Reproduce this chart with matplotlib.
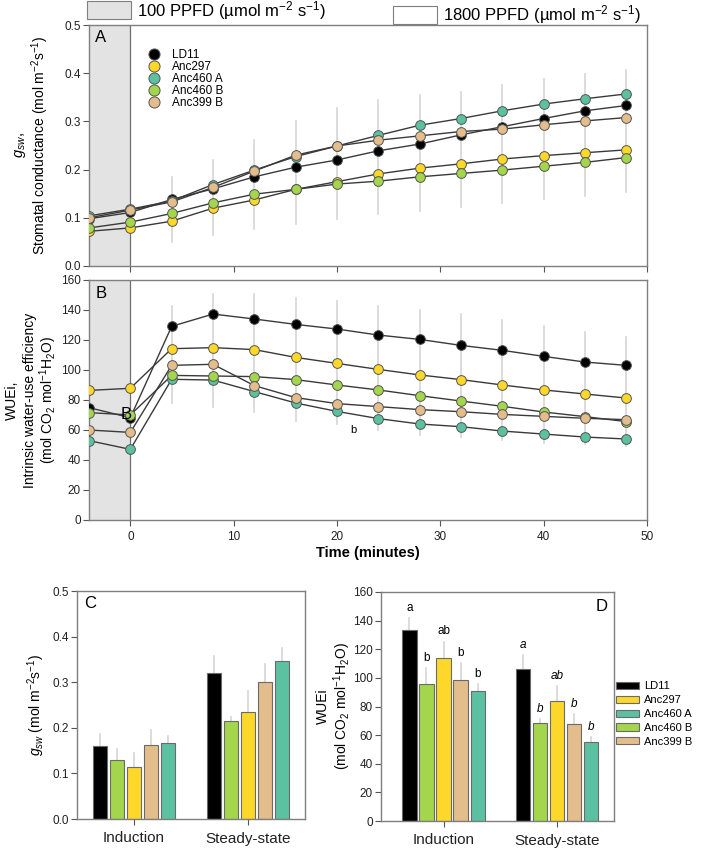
import numpy as np
import matplotlib
matplotlib.use('Agg')
from matplotlib import pyplot as plt
from matplotlib.lines import Line2D
from matplotlib.patches import Rectangle, Patch

plt.rcParams['font.family'] = ['Liberation Sans', 'DejaVu Sans']
plt.rcParams['mathtext.fontset'] = 'custom'
plt.rcParams['mathtext.rm'] = 'Liberation Sans'
plt.rcParams['mathtext.it'] = 'Liberation Sans:italic'
plt.rcParams['mathtext.bf'] = 'Liberation Sans:bold'

# ---- data ----
genotypes = ['LD11', 'Anc297', 'Anc460 A', 'Anc460 B', 'Anc399 B']
colors = {'LD11': '#000000', 'Anc297': '#fdd82a', 'Anc460 A': '#5cc1a0',
          'Anc460 B': '#a3d64c', 'Anc399 B': '#e3bd8c'}

time = [-4, 0, 4, 8, 12, 16, 20, 24, 28, 32, 36, 40, 44, 48]

gsw = {
    'LD11':     [0.098, 0.111, 0.138, 0.160, 0.185, 0.205, 0.220, 0.239, 0.253, 0.272, 0.289, 0.306, 0.322, 0.333],
    'Anc297':   [0.072, 0.079, 0.093, 0.120, 0.137, 0.159, 0.175, 0.191, 0.203, 0.212, 0.222, 0.229, 0.235, 0.241],
    'Anc460 A': [0.104, 0.118, 0.135, 0.169, 0.199, 0.227, 0.249, 0.271, 0.292, 0.306, 0.322, 0.336, 0.347, 0.357],
    'Anc460 B': [0.079, 0.091, 0.109, 0.131, 0.149, 0.159, 0.170, 0.176, 0.185, 0.192, 0.199, 0.207, 0.215, 0.225],
    'Anc399 B': [0.100, 0.116, 0.133, 0.163, 0.197, 0.230, 0.249, 0.261, 0.270, 0.279, 0.284, 0.293, 0.301, 0.308],
}
gsw_err_hi = [None, None, 0.185, 0.220, 0.261, 0.301, 0.327, 0.344, 0.355, 0.362, 0.376, 0.387, 0.398, 0.407]
gsw_err_lo = [None, None, 0.050, 0.064, 0.076, 0.088, 0.097, 0.108, 0.115, 0.123, 0.131, 0.138, 0.146, 0.154]

wue = {
    'LD11':     [74.9, 68.2, 129.1, 137.3, 134.0, 130.4, 127.3, 123.3, 120.4, 116.4, 113.1, 109.1, 105.3, 103.1],
    'Anc297':   [86.4, 87.8, 114.2, 114.9, 113.6, 108.4, 104.4, 100.4, 96.7, 93.6, 90.0, 86.7, 84.0, 81.3],
    'Anc460 A': [52.9, 47.1, 93.8, 93.3, 85.6, 78.0, 72.4, 67.6, 64.0, 62.2, 59.3, 57.3, 55.3, 54.0],
    'Anc460 B': [71.6, 70.0, 96.4, 96.0, 95.6, 93.6, 90.0, 86.7, 82.9, 79.3, 75.8, 72.0, 68.9, 65.6],
    'Anc399 B': [60.0, 58.4, 103.1, 103.8, 89.6, 81.6, 77.6, 75.6, 73.6, 72.2, 70.4, 69.1, 67.8, 66.9],
}
wue_err_hi = [None, None, 142.7, 151.0, 150.7, 148.2, 146.2, 142.9, 140.0, 137.1, 133.3, 129.3, 125.1, 122.2]
wue_err_lo = [None, None, 78.2, 75.6, 71.8, 66.0, 63.8, 60.0, 56.7, 55.1, 53.3, 51.6, 50.7, 49.3]

phases = ['Induction', 'Steady-state']
bar_order = ['LD11', 'Anc460 B', 'Anc297', 'Anc399 B', 'Anc460 A']
gsw_bar = {
    'LD11':     [0.161, 0.321],
    'Anc460 B': [0.129, 0.215],
    'Anc297':   [0.115, 0.235],
    'Anc399 B': [0.163, 0.300],
    'Anc460 A': [0.167, 0.347],
}
gsw_bar_top = {
    'LD11':     [0.186, 0.358],
    'Anc460 B': [0.154, 0.224],
    'Anc297':   [0.144, 0.281],
    'Anc399 B': [0.195, 0.341],
    'Anc460 A': [0.183, 0.374],
}
wue_bar = {
    'LD11':     [133.5, 106.0],
    'Anc460 B': [96.0, 68.7],
    'Anc297':   [114.1, 84.1],
    'Anc399 B': [98.8, 68.0],
    'Anc460 A': [90.8, 55.4],
}
wue_bar_top = {
    'LD11':     [141.6, 116.0],
    'Anc460 B': [106.7, 71.0],
    'Anc297':   [125.3, 94.3],
    'Anc399 B': [110.2, 74.8],
    'Anc460 A': [95.7, 58.5],
}
wue_letters = {
    'LD11':     ['a', 'a'],
    'Anc460 B': ['b', 'b'],
    'Anc297':   ['ab', 'ab'],
    'Anc399 B': ['b', 'b'],
    'Anc460 A': ['b', 'b'],
}

# ---- figure ----
W, H = 702, 851
fig = plt.figure(figsize=(W / 100, H / 100), dpi=100)


def px_axes(left, top, right, bottom):
    return fig.add_axes([left / W, 1 - bottom / H, (right - left) / W, (bottom - top) / H])


spine_c = '#7f7f7f'


def style(ax):
    for s in ax.spines.values():
        s.set_color(spine_c)
        s.set_linewidth(1.0)
    ax.tick_params(direction='out', length=4, width=0.8, color='#555555',
                   labelsize=8.5, labelcolor='#222222', pad=2)


def line_panel(ax, data, hi, lo):
    ax.axvspan(-4, 0, color='#e3e3e3', zorder=0, lw=0)
    ax.axvline(0, color='#6f6f6f', lw=0.9, zorder=1)
    for t, h, l in zip(time, hi, lo):
        if h is not None:
            ax.plot([t, t], [l, h], color='#d6d6d6', lw=1.2, zorder=1)
    for g in genotypes:
        ax.plot(time, data[g], color='#3a3a3a', lw=1.0, zorder=2)
    for g in genotypes:
        ax.plot(time, data[g], ls='none', marker='o', ms=7, mfc=colors[g],
                mec='#555555', mew=0.7, zorder=3)
    ax.set_xlim(-4, 50)
    ax.set_xticks([0, 10, 20, 30, 40, 50])
    style(ax)


# Panel A
axA = px_axes(89, 25, 647, 266)
line_panel(axA, gsw, gsw_err_hi, gsw_err_lo)
axA.set_ylim(0, 0.5)
axA.set_yticks(np.arange(0, 0.51, 0.1))
axA.set_yticklabels(['%.1f' % v for v in np.arange(0, 0.51, 0.1)])
axA.set_xticklabels([])
axA.text(-3.4, 0.49, 'A', fontsize=12, va='top')
handles = [Line2D([], [], ls='none', marker='o', ms=8, mfc=colors[g], mec='#555555', mew=0.7)
           for g in genotypes]
axA.legend(handles, genotypes, loc='upper left', bbox_to_anchor=(0.095, 0.92), frameon=False,
           fontsize=8.5, handletextpad=0.9, labelspacing=0.0, borderaxespad=0, handlelength=1.2)
fig.text(20 / W, 1 - 145 / H, '$g_{sw},$', rotation=90, ha='center', va='center', fontsize=10.5)
fig.text(40 / W, 1 - 145 / H, 'Stomatal conductance (mol m$^{-2}$s$^{-1}$)', rotation=90,
         ha='center', va='center', fontsize=10)

# Panel B
axB = px_axes(89, 280, 647, 520)
line_panel(axB, wue, wue_err_hi, wue_err_lo)
axB.set_ylim(0, 160)
axB.set_yticks(range(0, 161, 20))
axB.tick_params(axis='x', pad=4)
axB.text(-3.4, 156, 'B', fontsize=12, va='top')
axB.text(-0.4, 70, 'B', fontsize=12, ha='center', va='center')
axB.text(21.6, 60, 'b', fontsize=8, ha='center', va='center')
axB.set_xlabel('Time (minutes)', fontsize=10.5, fontweight='bold', labelpad=2)
fig.text(12 / W, 1 - 400 / H, 'WUEi,', rotation=90, ha='center', va='center', fontsize=10)
fig.text(30 / W, 1 - 400 / H, 'Intrinsic water-use efficiency', rotation=90,
         ha='center', va='center', fontsize=10)
fig.text(48 / W, 1 - 400 / H, '(mol CO$_2$ mol$^{-1}$H$_2$O)', rotation=90,
         ha='center', va='center', fontsize=10)

# header legend for light levels
fig.patches.append(Rectangle((87 / W, 1 - 19 / H), 44 / W, 18 / H, transform=fig.transFigure,
                             facecolor='#e3e3e3', edgecolor='#7f7f7f', lw=0.8))
fig.text(137 / W, 1 - 11 / H, '100 PPFD (µmol m$^{-2}$ s$^{-1}$)', fontsize=12, va='center')
fig.patches.append(Rectangle((393 / W, 1 - 24 / H), 44 / W, 18 / H, transform=fig.transFigure,
                             facecolor='white', edgecolor='#7f7f7f', lw=0.8))
fig.text(443 / W, 1 - 15 / H, '1800 PPFD (µmol m$^{-2}$ s$^{-1}$)', fontsize=12, va='center')

# bar panels
xg = np.arange(len(phases))
width = 0.125
step = 0.15


def bar_panel(ax, vals, tops):
    for i, g in enumerate(bar_order):
        pos = xg + (i - 2) * step
        ax.bar(pos, vals[g], width, color=colors[g], edgecolor='#6a6a6a', lw=0.8, zorder=2)
        for p, v, t in zip(pos, vals[g], tops[g]):
            ax.plot([p, p], [v, t], color='#d6d6d6', lw=1.2, zorder=1)
    ax.set_xlim(-0.5, 1.5)
    ax.set_xticks(xg)
    ax.set_xticklabels(phases)
    style(ax)
    ax.tick_params(axis='x', labelsize=11, pad=5)


axC = px_axes(77, 591, 305, 819)
bar_panel(axC, gsw_bar, gsw_bar_top)
axC.set_ylim(0, 0.5)
axC.set_yticks(np.arange(0, 0.51, 0.1))
axC.set_yticklabels(['%.1f' % v for v in np.arange(0, 0.51, 0.1)])
axC.text(-0.44, 0.488, 'C', fontsize=12, va='top')
axC.set_ylabel('$g_{sw}$ (mol m$^{-2}$s$^{-1}$)', fontsize=10, labelpad=4)

axD = px_axes(381, 592, 614, 821)
bar_panel(axD, wue_bar, wue_bar_top)
axD.set_xlim(-0.55, 1.5)
axD.set_ylim(0, 160)
axD.set_yticks(range(0, 161, 20))
axD.text(1.44, 155, 'D', fontsize=12, va='top', ha='right')
for i, g in enumerate(bar_order):
    pos = xg + (i - 2) * step
    for j in range(len(phases)):
        axD.annotate(wue_letters[g][j], (pos[j], wue_bar_top[g][j]), xytext=(0, 3),
                     textcoords='offset points', ha='center', va='bottom', fontsize=8.5,
                     style='normal' if j == 0 else 'italic')
fig.text(323 / W, 1 - 706 / H, 'WUEi', rotation=90, ha='center', va='center', fontsize=10)
fig.text(342 / W, 1 - 706 / H, '(mol CO$_2$ mol$^{-1}$H$_2$O)', rotation=90,
         ha='center', va='center', fontsize=10)

leg_handles = [Patch(facecolor=colors[g], edgecolor='#6a6a6a', lw=0.8) for g in genotypes]
fig.legend(leg_handles, genotypes, loc='center left', bbox_to_anchor=(616 / W, 1 - 714 / H),
           frameon=False, fontsize=8, handlelength=2.1, handleheight=0.6, borderpad=0,
           labelspacing=0.35, handletextpad=0.4, borderaxespad=0)

fig.savefig('out.png', dpi=100)
